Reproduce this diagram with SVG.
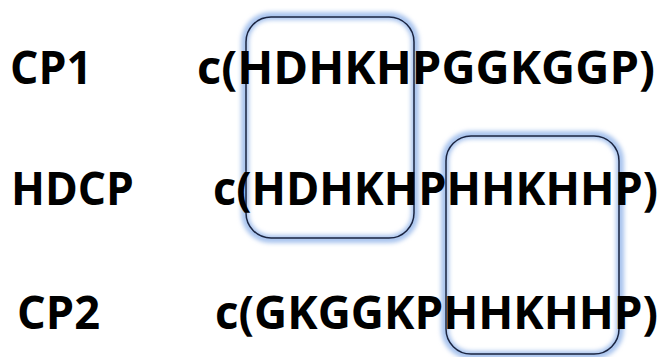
<svg xmlns="http://www.w3.org/2000/svg" width="662" height="357" viewBox="0 0 662 357">
<style>
.t{font-family:"Open Sans","Liberation Sans",sans-serif;font-weight:700;font-size:46px;fill:#000}
.glow{fill:none;stroke:#a9c4ee;stroke-width:8;filter:url(#blur)}
.edge{fill:none;stroke:#1a2440;stroke-width:1.5}
</style>
<defs>
<filter id="blur" x="-10%" y="-10%" width="120%" height="120%"><feGaussianBlur stdDeviation="2"/></filter>
</defs>
<rect width="662" height="357" fill="#fff"/>
<g id="box1">
<rect class="glow" x="245" y="16" width="170" height="223" rx="26"/>
<rect class="edge" x="246" y="17" width="168" height="221" rx="25"/>
</g>
<g id="box2">
<rect class="glow" x="445" y="135" width="175" height="220" rx="26"/>
<rect class="edge" x="446" y="136" width="173" height="218" rx="25"/>
</g>
<g id="labels">
<text class="t" x="10" y="84" textLength="82" lengthAdjust="spacingAndGlyphs">CP1</text>
<text class="t" x="11" y="205" textLength="123" lengthAdjust="spacingAndGlyphs">HDCP</text>
<text class="t" x="17" y="329" textLength="83" lengthAdjust="spacingAndGlyphs">CP2</text>
</g>
<g id="sequences">
<text class="t" x="197" y="84" textLength="458" lengthAdjust="spacingAndGlyphs">c(HDHKHPGGKGGP)</text>
<text class="t" x="213" y="205" textLength="445" lengthAdjust="spacingAndGlyphs">c(HDHKHPHHKHHP)</text>
<text class="t" x="215" y="329" textLength="443" lengthAdjust="spacingAndGlyphs">c(GKGGKPHHKHHP)</text>
</g>
</svg>
